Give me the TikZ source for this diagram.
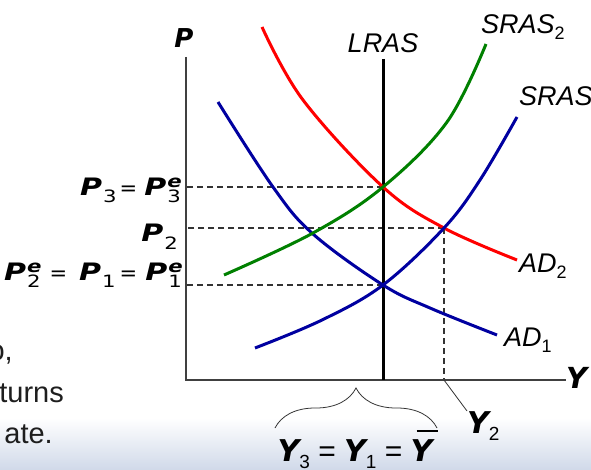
\documentclass[tikz,border=0pt]{standalone}
\usepackage{fontspec}
\setmainfont{Liberation Sans}
\newfontfamily\eqfont[FakeStretch=1.25]{DejaVu Sans}
\newfontfamily\varfont{DejaVu Sans}
\usetikzlibrary{decorations.pathreplacing}
\definecolor{adblue}{RGB}{0,0,160}
\definecolor{srasgreen}{RGB}{0,128,0}
\definecolor{barblue}{RGB}{208,217,233}
\definecolor{slidetext}{RGB}{30,30,30}
\newcommand{\bvar}[1]{{\varfont\bfseries\itshape #1}}
\newcommand{\Pvar}[2]{{\bfseries\itshape P}\kern1pt\rlap{\raisebox{8pt}{\fontsize{17}{17}\selectfont\bfseries\itshape #2}}\raisebox{-7pt}{\fontsize{17}{17}\selectfont #1}}
\newcommand{\eqsp}[2]{\kern#1{\varfont\fontsize{21}{21}\selectfont =}\kern#2}
\newcommand{\Yvar}[1]{\bvar{Y}\raisebox{-7pt}{\fontsize{19}{19}\selectfont #1}}
\newcommand{\Ybar}{\rlap{\kern6pt\raisebox{29pt}{\rule{21pt}{1.8pt}}}\bvar{Y}}
\newcommand{\lsub}[1]{\raisebox{-6pt}{\fontsize{18}{18}\selectfont\upshape #1}}
\begin{document}
\begin{tikzpicture}[x=1pt, y=-1pt,
    axis/.style={draw=black!75, line width=2pt, line join=miter},
    lras/.style={draw=black, line width=3pt},
    curve/.style={line width=3pt, smooth, tension=0.6},
    guide/.style={draw=black!80, line width=1.2pt, dash pattern=on 6pt off 4pt},
    pointer/.style={draw=black!80, line width=0.8pt},
    lbl/.style={inner sep=0pt, font=\fontsize{27}{27}\selectfont\itshape},
    eqlbl/.style={inner sep=0pt, font=\eqfont\fontsize{24}{24}\selectfont},
    ylbl/.style={inner sep=0pt, font=\fontsize{30}{30}\selectfont},
    slide/.style={inner sep=0pt, text=slidetext, font=\fontsize{29}{29}\selectfont},
  ]
  \useasboundingbox (0,0) rectangle (591,470);
  \shade[top color=white, bottom color=barblue] (0,418) rectangle (591,470);

  \node[slide, anchor=base east] (frag1) at (13,360) {o,};
  \node[slide, anchor=base east] (frag2) at (64,402) {turns};
  \node[slide, anchor=base east] (frag3) at (53,443) {ate.};

  \coordinate (O) at (186,380);
  \coordinate (ytop) at (186,57);
  \coordinate (xend) at (566,380);
  \coordinate (ltop) at (383,59);
  \coordinate (E1) at (383,285);
  \coordinate (E2) at (444,228);
  \coordinate (E3) at (383,187);

  \draw[guide] (E3) -- (E3 -| O);
  \draw[guide] (E2) -- (E2 -| O);
  \draw[guide] (E1) -- (E1 -| O);
  \draw[guide] (E2) -- (E2 |- O);

  \draw[axis] (ytop) -- (O) -- (xend);
  \draw[lras] (ltop) -- (ltop |- O);

  \draw[curve, adblue] plot coordinates {(218,102) (273,187) (313,234) (E1) (430,308) (497,335)};
  \draw[curve, red] plot coordinates {(262,27) (303,100) (E3) (E2) (517,260)};
  \draw[curve, adblue] plot coordinates {(255,348) (322,320) (E1) (E2) (480,180) (517,117)};
  \draw[curve, srasgreen] plot coordinates {(224,275) (313,233) (E3) (447,122) (486,44)};

  \node[ylbl, anchor=base] (plbl) at (184,48) {\fontsize{26}{26}\selectfont\bvar{P}};
  \node[ylbl, anchor=base west] (ylbl) at (566,388) {\fontsize{29}{29}\selectfont\bvar{Y}};
  \node[lbl, anchor=base] (lraslbl) at (383,53) {LRAS};
  \node[lbl, anchor=base west] (sras2lbl) at (481,34) {SRAS\lsub{2}};
  \node[lbl, anchor=base west] (sras1lbl) at (519,106) {SRAS\lsub{1}};
  \node[lbl, anchor=base west] (ad2lbl) at (519,272) {AD\lsub{2}};
  \node[lbl, anchor=base west] (ad1lbl) at (504,346) {AD\lsub{1}};

  \node[eqlbl, anchor=base east] (p3lbl) at (181,196) {\Pvar{3}{}\eqsp{3pt}{7pt}\Pvar{3}{e}};
  \node[eqlbl, anchor=base east] (p2lbl) at (178,242) {\Pvar{2}{}};
  \node[eqlbl, anchor=base east] (p1lbl) at (182,280) {\Pvar{2}{e}\eqsp{9pt}{12pt}\Pvar{1}{}\eqsp{4pt}{8pt}\Pvar{1}{e}};

  \node[ylbl, anchor=north west] (y2lbl) at (467,411) {\Yvar{2}};
  \draw[pointer] (E2 |- O) -- (y2lbl.north west);

  \draw[pointer, decorate, decoration={brace, amplitude=40pt}] (275,428) -- (437,428);
  \node[ylbl, anchor=base] (ylbl3) at (355,461) {\Yvar{3} = \Yvar{1} = \Ybar};
\end{tikzpicture}
\end{document}
